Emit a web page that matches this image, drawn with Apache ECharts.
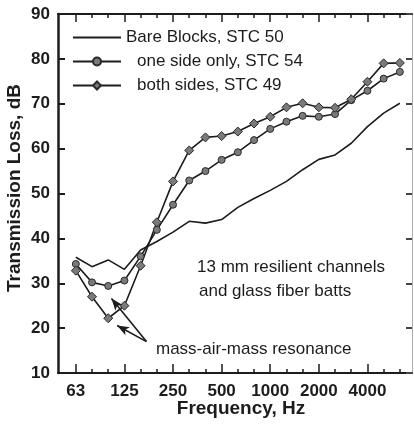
<!DOCTYPE html>
<html>
<head>
<meta charset="utf-8">
<script src="https://cdn.jsdelivr.net/npm/echarts@6/dist/echarts.min.js"></script>
<style>
  html, body { margin: 0; padding: 0; background: #fff; }
  #chart { width: 414px; height: 424px; }
</style>
</head>
<body>
<div id="chart"></div>
<script>
// One-third-octave band centre frequencies, Hz
const bands = ['63', '80', '100', '125', '160', '200', '250', '315', '400', '500', '630',
               '800', '1000', '1250', '1600', '2000', '2500', '3150', '4000', '5000', '6300'];
// Octave labels shown under the frequency axis
const tickLabels = ['63', '125', '250', '500', '1000', '2000', '4000'];

// Transmission loss, dB, one value per band
const bareBlocks = [35.8, 33.7, 35.2, 33.1, 37.4, 39.3, 41.4, 43.8, 43.4, 44.2, 46.9,
                    48.9, 50.7, 52.7, 55.3, 57.6, 58.6, 61.2, 64.9, 67.9, 70.1];
const oneSideOnly = [34.3, 30.2, 29.4, 30.6, 36.0, 41.9, 47.5, 52.9, 55.0, 57.5, 59.2,
                     61.9, 64.4, 66.0, 67.3, 67.1, 67.7, 70.8, 72.9, 75.6, 77.1];
const bothSides = [32.8, 27.0, 22.2, 25.0, 33.9, 43.6, 52.7, 59.6, 62.5, 62.8, 63.8,
                   65.6, 67.1, 69.2, 70.1, 69.2, 69.1, 71.0, 74.9, 79.0, 79.1];

const seriesNames = ['Bare Blocks, STC 50', 'one side only, STC 54', 'both sides, STC 49'];

const FONT = '"Liberation Sans", Arial, Helvetica, sans-serif';
const INK = '#1c1c1c';

const bandIdx = bands.map((_, i) => i);
const octaveIdx = tickLabels.map(t => bands.indexOf(t));
const toPairs = arr => arr.map((v, i) => [i, v]);

const xRange = { min: -1.1, max: 20.75 };

const chart = echarts.init(document.getElementById('chart'), null, { renderer: 'canvas' });

const markerStyle = { color: '#7a7a7a', borderColor: '#2a2a2a', borderWidth: 1 };
const lineStyle = { color: INK, width: 1.6 };

chart.setOption({
  backgroundColor: '#ffffff',
  animation: false,
  grid: { left: 58, top: 14, right: 2, bottom: 51 },
  xAxis: [
    { // bottom axis: every band tick plus octave labels
      type: 'value', position: 'bottom', ...xRange,
      axisLine: { onZero: false, lineStyle: { color: INK, width: 2 } },
      axisTick: { inside: true, length: 4, customValues: bandIdx, lineStyle: { color: INK, width: 1.5 } },
      axisLabel: {
        customValues: octaveIdx, formatter: v => bands[Math.round(v)],
        fontFamily: FONT, fontSize: 17, fontWeight: 'bold', color: INK, margin: 10
      },
      splitLine: { show: false }
    },
    { // bottom axis: longer octave ticks
      type: 'value', position: 'bottom', ...xRange,
      axisLine: { show: false, onZero: false },
      axisTick: { inside: true, length: 9, customValues: octaveIdx, lineStyle: { color: INK, width: 1.5 } },
      axisLabel: { show: false }, splitLine: { show: false }
    },
    { // top frame with band ticks
      type: 'value', position: 'top', ...xRange,
      axisLine: { onZero: false, lineStyle: { color: INK, width: 2 } },
      axisTick: { inside: true, length: 4, customValues: bandIdx, lineStyle: { color: INK, width: 1.5 } },
      axisLabel: { show: false }, splitLine: { show: false }
    },
    { // top frame octave ticks
      type: 'value', position: 'top', ...xRange,
      axisLine: { show: false, onZero: false },
      axisTick: { inside: true, length: 8, customValues: octaveIdx, lineStyle: { color: INK, width: 1.5 } },
      axisLabel: { show: false }, splitLine: { show: false }
    }
  ],
  yAxis: [
    {
      type: 'value', position: 'left', min: 10, max: 90, interval: 10,
      axisLine: { onZero: false, lineStyle: { color: INK, width: 2.5 } },
      axisTick: { inside: true, length: 7, lineStyle: { color: INK, width: 2 } },
      axisLabel: { fontFamily: FONT, fontSize: 17, fontWeight: 'bold', color: INK, margin: 8 },
      splitLine: { show: false }
    },
    {
      type: 'value', position: 'right', min: 10, max: 90, interval: 10,
      axisLine: { onZero: false, lineStyle: { color: '#b0b0b0', width: 1 } },
      axisTick: { inside: true, length: 6, lineStyle: { color: '#444', width: 2 } },
      axisLabel: { show: false }, splitLine: { show: false }
    }
  ],
  legend: {
    orient: 'vertical', left: 72, top: 29, padding: 0,
    itemWidth: 48, itemHeight: 10, itemGap: 7,
    data: [
      { name: seriesNames[0], itemStyle: { color: 'rgba(0,0,0,0)', borderColor: 'rgba(0,0,0,0)', borderWidth: 0 } },
      seriesNames[1],
      seriesNames[2]
    ],
    formatter: name => (name === seriesNames[0] ? name : '{pad|}' + name),
    textStyle: {
      fontFamily: FONT, fontSize: 17, color: INK, lineHeight: 16,
      rich: { pad: { width: 11 } }
    }
  },
  series: [
    {
      name: seriesNames[0], type: 'line', data: toPairs(bareBlocks),
      symbol: 'none', lineStyle: lineStyle, itemStyle: { color: INK }
    },
    {
      name: seriesNames[1], type: 'line', data: toPairs(oneSideOnly),
      symbol: 'circle', symbolSize: 7, lineStyle: lineStyle, itemStyle: markerStyle,
      markLine: {
        silent: true, symbol: ['none', 'arrow'], symbolSize: [7, 12],
        label: { show: false },
        lineStyle: { color: INK, width: 1.6, type: 'solid' },
        data: [
          [{ coord: [4.36, 17.0] }, { coord: [2.2, 26.6] }],
          [{ coord: [4.36, 17.0] }, { coord: [2.55, 20.6] }]
        ]
      }
    },
    {
      name: seriesNames[2], type: 'line', data: toPairs(bothSides),
      symbol: 'diamond', symbolSize: 9, lineStyle: lineStyle, itemStyle: markerStyle
    }
  ],
  graphic: [
    { type: 'text', x: 197, y: 267, style: { text: '13 mm resilient channels', fontFamily: FONT, fontSize: 17, fill: INK, verticalAlign: 'middle' } },
    { type: 'text', x: 199, y: 291, style: { text: 'and glass fiber batts', fontFamily: FONT, fontSize: 17, fill: INK, verticalAlign: 'middle' } },
    { type: 'text', x: 156, y: 349, style: { text: 'mass-air-mass resonance', fontFamily: FONT, fontSize: 17, fill: INK, verticalAlign: 'middle' } },
    { type: 'text', x: 241, y: 409, style: { text: 'Frequency, Hz', fontFamily: FONT, fontSize: 19, fontWeight: 'bold', fill: INK, align: 'center', verticalAlign: 'middle' } },
    { type: 'text', x: 15, y: 188, rotation: Math.PI / 2, style: { text: 'Transmission Loss, dB', fontFamily: FONT, fontSize: 19, fontWeight: 'bold', fill: INK, align: 'center', verticalAlign: 'middle' } }
  ]
});
</script>
</body>
</html>
